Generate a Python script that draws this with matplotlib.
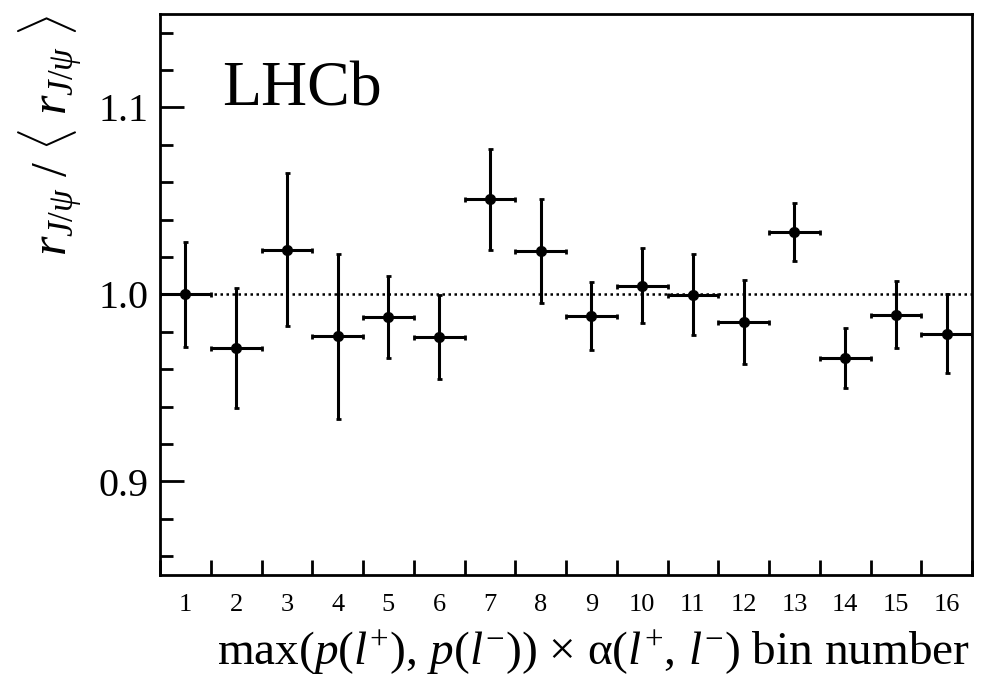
import matplotlib
matplotlib.use('Agg')
import matplotlib.pyplot as plt
import numpy as np

plt.rcParams['font.family'] = ['Liberation Serif', 'DejaVu Serif']
plt.rcParams['mathtext.fontset'] = 'custom'
plt.rcParams['mathtext.rm'] = 'Liberation Serif'
plt.rcParams['mathtext.it'] = 'Liberation Serif:italic'
plt.rcParams['mathtext.bf'] = 'Liberation Serif:bold'

# ratio per bin
bin_numbers = np.arange(1, 17)
ratio = [1.000, 0.9715, 1.024, 0.9776, 0.9879, 0.9772, 1.0509, 1.0232,
         0.9885, 1.0047, 0.9998, 0.9852, 1.0335, 0.9659, 0.9893, 0.9791]
ratio_err = [0.028, 0.032, 0.041, 0.044, 0.022, 0.0226, 0.027, 0.028,
             0.018, 0.020, 0.0216, 0.0226, 0.0154, 0.016, 0.018, 0.021]

fig = plt.figure(figsize=(9.82, 6.77), dpi=100)
ax = fig.add_axes([160 / 982, 1 - 575 / 677, 812 / 982, 561 / 677])

centers = bin_numbers - 0.5
ax.axhline(1.0, color='black', linestyle=(0, (1, 1.4)), lw=1.8, zorder=1)
ax.errorbar(centers, ratio, xerr=0.5, yerr=ratio_err, fmt='o', color='black',
            ms=7, elinewidth=2.2, capsize=1.8, capthick=2.0, zorder=3)

ax.set_xlim(0, 16)
ax.set_ylim(0.85, 1.15)

# x: ticks on bin edges, labels in bin centres
ax.set_xticks(np.arange(0, 17))
ax.set_xticklabels([])
ax.set_xticks(centers, minor=True)
ax.set_xticklabels([str(b) for b in bin_numbers], minor=True)
ax.tick_params(axis='x', which='major', direction='in', length=11, width=2,
               top=False)
ax.tick_params(axis='x', which='minor', length=0, pad=14, labelsize=19)

ax.set_yticks([0.9, 1.0, 1.1])
ax.set_yticklabels(['0.9', '1.0', '1.1'])
ax.set_yticks(np.arange(0.86, 1.15, 0.02), minor=True)
ax.tick_params(axis='y', which='major', direction='in', length=17, width=2,
               labelsize=29, pad=8, right=False)
ax.tick_params(axis='y', which='minor', direction='in', length=9.5, width=2,
               right=False)

for sp in ax.spines.values():
    sp.set_linewidth(2)

ax.text((222 - 160) / 812, (575 - 105) / 561, 'LHCb', transform=ax.transAxes,
        fontsize=46, ha='left', va='baseline')

fig.text(50 / 982, 1 - 135 / 677,
         r'$r_{J/\psi}\ /\ \langle\ r_{J/\psi}\ \rangle$',
         rotation=90, ha='center', va='center', fontsize=36)
fig.text(970 / 982, 1 - 665 / 677,
         r'max$(p(l^{+}),\, p(l^{-}))$ × α$(l^{+},\, l^{-})$ bin number',
         ha='right', va='baseline', fontsize=34)

fig.savefig('out.png', dpi=100)
